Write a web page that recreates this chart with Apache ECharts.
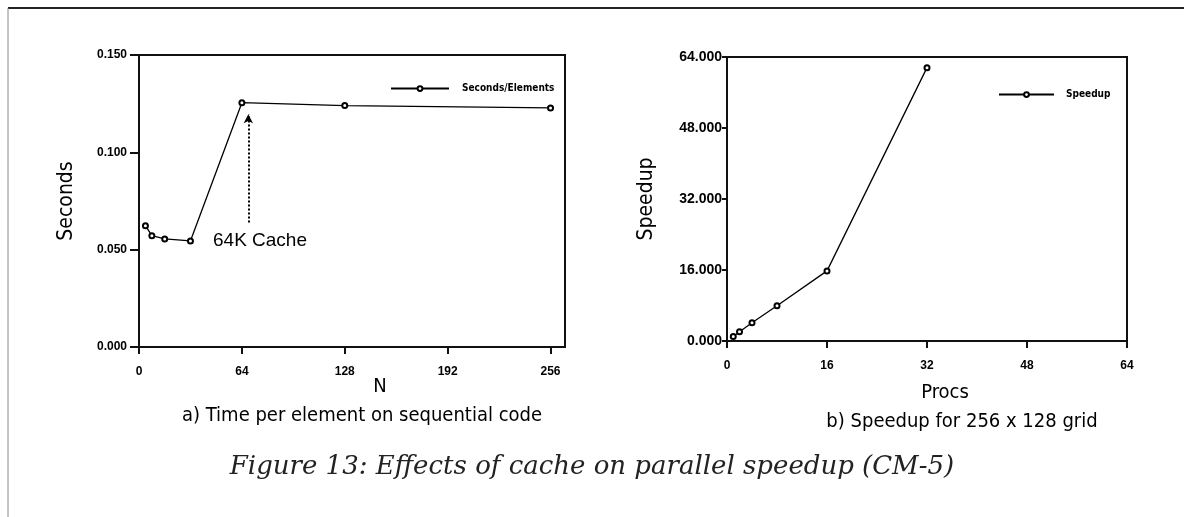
<html>
  <head>
    <title>Cache effects</title>
    <script src="https://cdn.jsdelivr.net/npm/echarts@6/dist/echarts.min.js"></script>
    <style>
      html, body { margin: 0; padding: 0; background: #fff; }
      #chart { width: 1184px; height: 517px; }
    </style>
  </head>

  <body>
    <div id="chart"></div>

    <script>
      // a) time per element, sequential code
      const sizeN = [4, 8, 16, 32, 64, 128, 256]
      const secondsPerElement = [0.0623, 0.0572, 0.0555, 0.0545, 0.1255, 0.124, 0.1228]
      const nTicks = [0, 64, 128, 192, 256]
      const secondsTicks = [0, 0.05, 0.1, 0.15]

      // b) speedup, 256 x 128 grid
      const procs = [1, 2, 4, 8, 16, 32]
      const speedup = [1, 2.1, 4.1, 7.95, 15.8, 61.6]
      const procsTicks = [0, 16, 32, 48, 64]
      const speedupTicks = [0, 16, 32, 48, 64]

      // annotation arrow (N, seconds)
      const cacheArrow = [[68, 0.064], [68, 0.1195]]

      const narrow = "'Liberation Sans Narrow', 'DejaVu Sans Condensed', sans-serif"
      const plain = "'Liberation Sans', Arial, sans-serif"

      let chart = echarts.init(document.getElementById('chart'), null, { renderer: 'canvas' })

      let tickLabel = size => ({
        color: '#000',
        fontSize: size,
        fontWeight: 'bold',
        fontFamily: plain
      })

      chart.setOption({
        animation: false,
        backgroundColor: '#fff',
        grid: [
          { left: 139, right: 619, top: 55, bottom: 170, show: true, borderColor: '#111', borderWidth: 2 },
          { left: 727, right: 57, top: 57, bottom: 176, show: true, borderColor: '#111', borderWidth: 2 }
        ],
        legend: [
          {
            left: 385, top: 74,
            itemWidth: 58, itemHeight: 6,
            data: ['Seconds/Elements'],
            textStyle: { fontSize: 10, fontWeight: 'bold', fontFamily: narrow, color: '#000', padding: [0, 0, 0, 8] }
          },
          {
            left: 993, top: 80,
            itemWidth: 55, itemHeight: 6,
            data: ['Speedup'],
            textStyle: { fontSize: 10, fontWeight: 'bold', fontFamily: narrow, color: '#000', padding: [0, 0, 0, 7] }
          }
        ],
        xAxis: [
          {
            gridIndex: 0, type: 'value',
            min: nTicks[0], max: 265, interval: nTicks[1] - nTicks[0],
            name: 'N', nameLocation: 'middle', nameGap: 22, nameMoveOverlap: false,
            nameTextStyle: { fontSize: 20, fontFamily: narrow, color: '#000', padding: [0, 0, 0, 56] },
            axisLine: { lineStyle: { color: '#111', width: 2 } },
            axisTick: { length: 7, lineStyle: { color: '#111', width: 2 } },
            axisLabel: Object.assign(tickLabel(12), { margin: 14, showMaxLabel: false,
              formatter: v => nTicks.indexOf(v) >= 0 ? String(v) : '' }),
            splitLine: { show: false }
          },
          {
            gridIndex: 1, type: 'value',
            min: procsTicks[0], max: procsTicks[procsTicks.length - 1], interval: procsTicks[1] - procsTicks[0],
            name: 'Procs', nameLocation: 'middle', nameGap: 34, nameMoveOverlap: false,
            nameTextStyle: { fontSize: 20, fontFamily: narrow, color: '#000', padding: [0, 0, 0, 36] },
            axisLine: { lineStyle: { color: '#111', width: 2 } },
            axisTick: { length: 7, lineStyle: { color: '#111', width: 2 } },
            axisLabel: Object.assign(tickLabel(12), { margin: 14 }),
            splitLine: { show: false }
          }
        ],
        yAxis: [
          {
            gridIndex: 0, type: 'value',
            min: secondsTicks[0], max: secondsTicks[secondsTicks.length - 1], interval: secondsTicks[1] - secondsTicks[0],
            name: 'Seconds', nameLocation: 'middle', nameGap: 54,
            nameTextStyle: { fontSize: 21, fontFamily: narrow, color: '#000' },
            axisLine: { lineStyle: { color: '#111', width: 2 } },
            axisTick: { length: 9, lineStyle: { color: '#111', width: 2 } },
            axisLabel: Object.assign(tickLabel(12), { margin: 12, formatter: v => v.toFixed(3) }),
            splitLine: { show: false }
          },
          {
            gridIndex: 1, type: 'value',
            min: speedupTicks[0], max: speedupTicks[speedupTicks.length - 1], interval: speedupTicks[1] - speedupTicks[0],
            name: 'Speedup', nameLocation: 'middle', nameGap: 62,
            nameTextStyle: { fontSize: 21, fontFamily: narrow, color: '#000' },
            axisLine: { lineStyle: { color: '#111', width: 2 } },
            axisTick: { length: 5, lineStyle: { color: '#111', width: 2 } },
            axisLabel: Object.assign(tickLabel(14), { margin: 5, formatter: v => v.toFixed(3) }),
            splitLine: { show: false }
          }
        ],
        series: [
          {
            name: 'Seconds/Elements',
            type: 'line',
            xAxisIndex: 0, yAxisIndex: 0,
            data: sizeN.map((n, i) => [n, secondsPerElement[i]]),
            symbol: 'emptyCircle', symbolSize: 5,
            itemStyle: { color: '#000', borderWidth: 1.5 },
            lineStyle: { color: '#000', width: 1.3 },
            markLine: {
              silent: true,
              symbol: ['none', 'arrow'],
              symbolSize: [7, 9],
              label: { show: false },
              lineStyle: { color: '#000', type: 'dotted', width: 2 },
              data: [[{ coord: cacheArrow[0] }, { coord: cacheArrow[1] }]]
            }
          },
          {
            name: 'Speedup',
            type: 'line',
            xAxisIndex: 1, yAxisIndex: 1,
            data: procs.map((p, i) => [p, speedup[i]]),
            symbol: 'emptyCircle', symbolSize: 5,
            itemStyle: { color: '#000', borderWidth: 1.5 },
            lineStyle: { color: '#000', width: 1.3 }
          }
        ],
        graphic: [
          // page frame
          { type: 'line', shape: { x1: 8, y1: 8, x2: 1184, y2: 8 }, style: { stroke: '#222', lineWidth: 2 } },
          { type: 'line', shape: { x1: 8, y1: 8, x2: 8, y2: 517 }, style: { stroke: '#888', lineWidth: 1 } },
          {
            type: 'text', left: 213, top: 224,
            style: { text: '64K Cache', fontSize: 19, fontFamily: plain, fill: '#000' }
          },
          {
            type: 'text', x: 362, y: 398,
            style: { text: 'a) Time per element on sequential code', fontSize: 20, fontFamily: narrow, fill: '#000', align: 'center' }
          },
          {
            type: 'text', x: 962, y: 404,
            style: { text: 'b) Speedup for 256 x 128 grid', fontSize: 20, fontFamily: narrow, fill: '#000', align: 'center' }
          },
          {
            type: 'text', x: 592, y: 442,
            style: { text: 'Figure 13: Effects of cache on parallel speedup (CM-5)', fontSize: 26, fontStyle: 'italic', fontFamily: "'DejaVu Serif', 'Liberation Serif', serif", fill: '#222', align: 'center' }
          }
        ]
      })
    </script>
  </body>
</html>
